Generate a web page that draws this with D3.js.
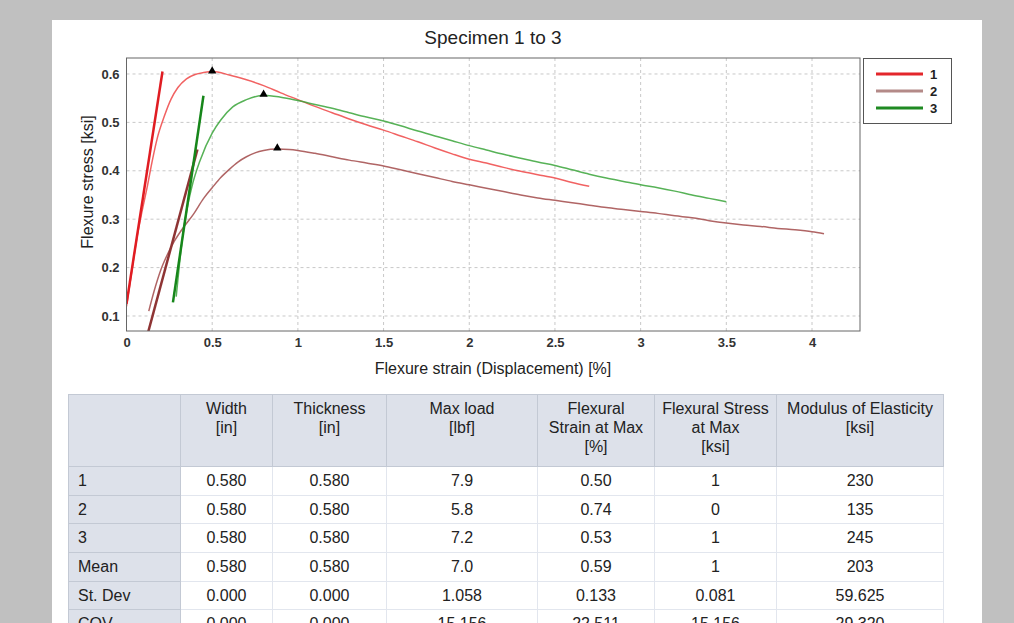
<!DOCTYPE html>
<html>
<head>
<meta charset="utf-8">
<script src="https://cdn.jsdelivr.net/npm/d3@7"></script>
<style>
  html, body { margin: 0; padding: 0; background: #c0c0c0; overflow: hidden; }
  body { width: 1014px; height: 623px; position: relative; font-family: "Liberation Sans", Arial, sans-serif; }
  #panel { position: absolute; left: 52px; top: 20px; width: 930px; height: 620px; background: #fff; }
  #chart { position: absolute; left: 0; top: 0; }
  table { position: absolute; left: 68px; top: 394px; width: 875px; border-collapse: collapse; table-layout: fixed; font-size: 16px; color: #222; }
  th { background: #dde1ea; font-weight: normal; vertical-align: top; padding: 4px 0 0 0; height: 67px; line-height: 19px; border: 1px solid #c3c9d4; }
  td { height: 27.7px; padding: 0; text-align: center; border: 1px solid #e2e6ee; }
  td.lab { background: #dde1ea; text-align: left; padding-left: 9px; border-color: #c3c9d4; }
</style>
</head>
<body>
<div id="panel"></div>
<svg id="chart" width="1014" height="623"></svg>
<script>
// curve data (strain %, stress ksi)
const strain1 = [0.00,0.03,0.06,0.09,0.12,0.15,0.18,0.22,0.26,0.30,0.35,0.40,0.45,0.50,0.60,0.70,0.80,0.90,1.00,1.10,1.20,1.30,1.40,1.50,1.60,1.70,1.80,1.90,2.00,2.10,2.20,2.30,2.40,2.50,2.60,2.70];
const stress1 = [0.120,0.190,0.260,0.315,0.365,0.420,0.468,0.512,0.548,0.572,0.590,0.599,0.603,0.605,0.598,0.588,0.576,0.561,0.547,0.533,0.520,0.507,0.495,0.484,0.472,0.460,0.447,0.435,0.424,0.416,0.407,0.399,0.392,0.385,0.376,0.368];

const strain2 = [0.13,0.16,0.20,0.24,0.28,0.33,0.39,0.45,0.50,0.55,0.60,0.65,0.70,0.75,0.80,0.88,0.95,1.00,1.10,1.20,1.30,1.40,1.50,1.60,1.70,1.80,1.90,2.00,2.10,2.20,2.30,2.40,2.50,2.60,2.70,2.80,2.90,3.00,3.10,3.20,3.30,3.40,3.50,3.60,3.70,3.80,3.90,4.00,4.07];
const stress2 = [0.110,0.150,0.195,0.228,0.255,0.282,0.310,0.343,0.365,0.386,0.403,0.418,0.429,0.437,0.442,0.445,0.444,0.442,0.436,0.429,0.422,0.416,0.410,0.402,0.394,0.386,0.378,0.371,0.364,0.357,0.350,0.344,0.339,0.334,0.329,0.324,0.320,0.316,0.312,0.307,0.303,0.297,0.292,0.288,0.285,0.281,0.278,0.274,0.270];

const strain3 = [0.29,0.31,0.33,0.35,0.38,0.43,0.50,0.55,0.62,0.70,0.80,0.90,1.00,1.10,1.20,1.30,1.40,1.50,1.60,1.70,1.80,1.90,2.00,2.10,2.20,2.30,2.40,2.50,2.60,2.70,2.80,2.90,3.00,3.10,3.20,3.30,3.40,3.50];
const stress3 = [0.140,0.210,0.270,0.315,0.365,0.422,0.478,0.505,0.532,0.547,0.556,0.552,0.545,0.537,0.529,0.520,0.511,0.503,0.493,0.482,0.472,0.462,0.452,0.443,0.434,0.426,0.418,0.411,0.402,0.393,0.385,0.378,0.371,0.365,0.358,0.350,0.343,0.336];

// modulus (tangent) lines
const modStrain = [[0.00,0.21],[0.10,0.414],[0.271,0.449]];
const modStress = [[0.125,0.605],[0.032,0.444],[0.128,0.555]];

// maximum points
const peakStrain = [0.50,0.88,0.80];
const peakStress = [0.604,0.445,0.556];

const seriesNames = ["1","2","3"];
const xTicks = [0,0.5,1,1.5,2,2.5,3,3.5,4];
const yTicks = [0.1,0.2,0.3,0.4,0.5,0.6];

// table
const colHeads = [[""],["Width","[in]"],["Thickness","[in]"],["Max load","[lbf]"],["Flexural","Strain at Max","[%]"],["Flexural Stress","at Max","[ksi]"],["Modulus of Elasticity","[ksi]"]];
const rowLabels = ["1","2","3","Mean","St. Dev","COV"];
const widthCol = ["0.580","0.580","0.580","0.580","0.000","0.000"];
const thickCol = ["0.580","0.580","0.580","0.580","0.000","0.000"];
const loadCol = ["7.9","5.8","7.2","7.0","1.058","15.156"];
const strainCol = ["0.50","0.74","0.53","0.59","0.133","22.511"];
const stressCol = ["1","0","1","1","0.081","15.156"];
const modulusCol = ["230","135","245","203","59.625","29.320"];
const colWidths = [112,92,114,151,117,122,167];

const curveColors = ["#ef4646","#a24a4a","#3aa43a"];
const lineColors = ["#e01c22","#8e3434","#16861a"];
const legendColors = ["#e3262b","#b48a88","#1f8a22"];

const svg = d3.select("#chart");
const pLeft = 126.5, pRight = 860, pTop = 58, pBottom = 331;

const x = d3.scaleLinear().domain([0, 4.28]).range([pLeft, pRight]);
const y = d3.scaleLinear().domain([0.069, 0.633]).range([pBottom, pTop]);

svg.append("defs").append("clipPath").attr("id", "clip")
  .append("rect").attr("x", pLeft).attr("y", pTop).attr("width", pRight - pLeft).attr("height", pBottom - pTop);

// title
svg.append("text")
  .attr("x", 493).attr("y", 44)
  .attr("text-anchor", "middle")
  .style("font-size", "19px").style("fill", "#222")
  .text("Specimen 1 to 3");

// grid
svg.append("g").selectAll("line").data(xTicks.filter(d => d > 0)).join("line")
  .attr("x1", d => x(d)).attr("x2", d => x(d))
  .attr("y1", pTop).attr("y2", pBottom)
  .attr("stroke", "#c8c8c8").attr("stroke-dasharray", "3,3");
svg.append("g").selectAll("line").data(yTicks).join("line")
  .attr("x1", pLeft).attr("x2", pRight)
  .attr("y1", d => y(d)).attr("y2", d => y(d))
  .attr("stroke", "#c8c8c8").attr("stroke-dasharray", "3,3");

// axes
const xAxis = svg.append("g")
  .attr("transform", `translate(0,${pBottom})`)
  .call(d3.axisBottom(x).tickValues(xTicks).tickSize(0).tickPadding(7).tickFormat(d => String(d)));
const yAxis = svg.append("g")
  .attr("transform", `translate(${pLeft},0)`)
  .call(d3.axisLeft(y).tickValues(yTicks).tickSize(0).tickPadding(7).tickFormat(d3.format(".1f")));
[xAxis, yAxis].forEach(g => {
  g.select(".domain").remove();
  g.selectAll("text").style("font-family", "Liberation Sans, Arial, sans-serif")
    .style("font-size", "13px").style("font-weight", "bold").style("fill", "#333");
});

svg.append("text")
  .attr("x", 493).attr("y", 374)
  .attr("text-anchor", "middle")
  .style("font-size", "16px").style("fill", "#222")
  .text("Flexure strain (Displacement) [%]");

svg.append("text")
  .attr("transform", "translate(93,182) rotate(-90)")
  .attr("text-anchor", "middle")
  .style("font-size", "16px").style("fill", "#222")
  .text("Flexure stress [ksi]");

// curves
const plot = svg.append("g").attr("clip-path", "url(#clip)");
const line = d3.line().x(d => x(d[0])).y(d => y(d[1])).curve(d3.curveMonotoneX);
const curves = [[strain1, stress1],[strain2, stress2],[strain3, stress3]];
curves.forEach((c, i) => {
  plot.append("path")
    .datum(c[0].map((v, j) => [v, c[1][j]]))
    .attr("d", line)
    .attr("fill", "none")
    .attr("stroke", curveColors[i])
    .attr("stroke-width", 1.5)
    .attr("opacity", 0.85);
});

// modulus lines
modStrain.forEach((s, i) => {
  plot.append("line")
    .attr("x1", x(s[0])).attr("y1", y(modStress[i][0]))
    .attr("x2", x(s[1])).attr("y2", y(modStress[i][1]))
    .attr("stroke", lineColors[i]).attr("stroke-width", 2.5);
});

// peak markers
svg.append("g").selectAll("path").data(peakStrain).join("path")
  .attr("d", d3.symbol(d3.symbolTriangle, 30))
  .attr("transform", (d, i) => `translate(${x(d)},${y(peakStress[i]) - 1})`)
  .attr("fill", "#000");

// frame
svg.append("rect")
  .attr("x", pLeft).attr("y", pTop).attr("width", pRight - pLeft).attr("height", pBottom - pTop)
  .attr("fill", "none").attr("stroke", "#666");

// legend
const lg = svg.append("g");
lg.append("rect").attr("x", 863.5).attr("y", 58.5).attr("width", 88).attr("height", 65)
  .attr("fill", "#fff").attr("stroke", "#555");
seriesNames.forEach((n, i) => {
  lg.append("line").attr("x1", 876).attr("x2", 923)
    .attr("y1", 74 + i * 17).attr("y2", 74 + i * 17)
    .attr("stroke", legendColors[i]).attr("stroke-width", 3);
  lg.append("text").attr("x", 930).attr("y", 74 + i * 17).attr("dy", "0.35em")
    .style("font-size", "13px").style("font-weight", "bold").style("fill", "#222")
    .text(n);
});

// results table
const cols = [widthCol, thickCol, loadCol, strainCol, stressCol, modulusCol];
const table = d3.select("body").append("table");
table.append("colgroup").selectAll("col").data(colWidths).join("col").style("width", d => d + "px");
table.append("thead").append("tr").selectAll("th").data(colHeads).join("th")
  .html(d => d.join("<br>"));
const rows = table.append("tbody").selectAll("tr").data(rowLabels).join("tr");
rows.append("td").attr("class", "lab").text(d => d);
rows.each(function(d, i) {
  d3.select(this).selectAll("td.v").data(cols.map(c => c[i])).join("td").attr("class", "v").text(v => v);
});
</script>
</body>
</html>
